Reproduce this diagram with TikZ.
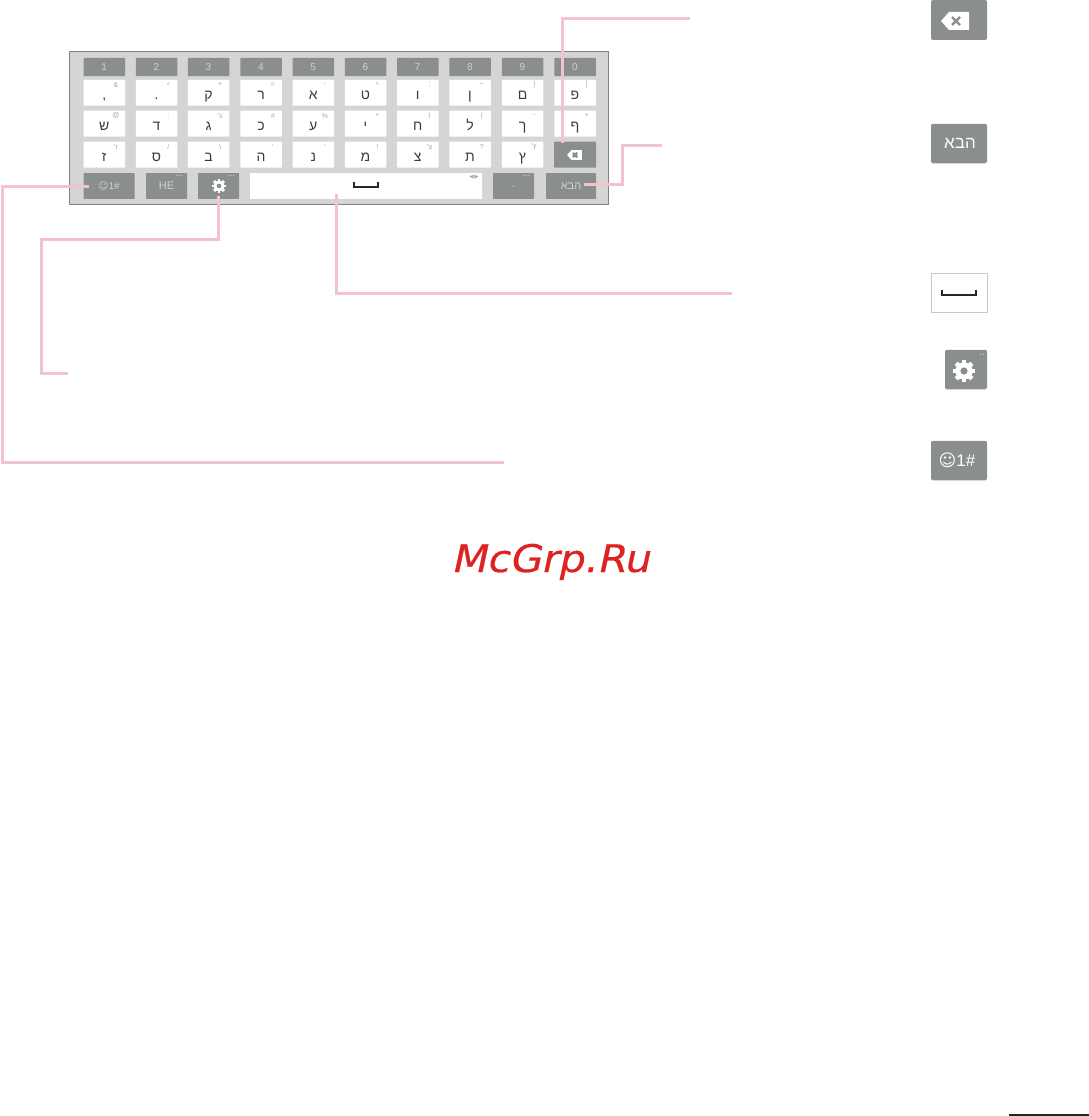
\documentclass[tikz,border=0pt]{standalone}
\usepackage{fontspec}
\setmainfont{Liberation Sans}
\newfontfamily\hebfont[Script=Hebrew]{Liberation Sans}
\newfontfamily\djv{DejaVu Sans}
\newfontfamily\markfont[FakeSlant=0.2,FakeBold=0.5]{DejaVu Sans}
\TeXXeTstate=1
\definecolor{keygray}{HTML}{8A8F8D}
\definecolor{panelgray}{HTML}{D5D5D3}
\definecolor{panelline}{HTML}{7F8280}
\definecolor{leaderpink}{HTML}{F3C3CD}
\definecolor{keyink}{HTML}{3C3C3C}
\definecolor{supink}{HTML}{A8A8A8}
\definecolor{numink}{HTML}{CFD2D1}
\definecolor{markred}{HTML}{DD2222}
\tikzset{
  panel/.style={draw=panelline,fill=panelgray,line width=1pt,minimum width=539pt,minimum height=152pt,inner sep=0pt,outer sep=0pt},
  keybase/.style={inner sep=0pt,outer sep=0pt,minimum height=25.8pt,rounded corners=0.5pt},
  whitekey/.style={keybase,fill=white,text=keyink,minimum width=41.5pt,text height=9pt,text depth=0pt,font=\hebfont\fontsize{14}{14}\selectfont},
  numkey/.style={keybase,fill=keygray,text=numink,minimum width=41.5pt,minimum height=18pt,font=\fontsize{10}{10}\selectfont},
  fnkey/.style={keybase,fill=keygray,text=numink,font=\fontsize{11}{11}\selectfont},
  supmark/.style={inner sep=0pt,outer sep=0pt,text=supink,font=\hebfont\fontsize{7}{7}\selectfont},
  dotsmark/.style={inner sep=0pt,outer sep=0pt,text=numink,font=\djv\fontsize{4}{4}\selectfont},
  bigicon/.style={inner sep=0pt,outer sep=0pt,fill=keygray,rounded corners=2pt,text=white,minimum height=39.5pt,minimum width=56pt},
  leader/.style={draw=leaderpink,line width=3pt,line join=miter},
  pics/gearicon/.style={code={
    \foreach \a in {0,45,90,135}{\fill[white,rotate=\a] (-2.3,-11) rectangle (2.3,11);}
    \fill[white] (0,0) circle (8.6);
    \fill[keygray] (0,0) circle (3.6);
  }},
  pics/backicon/.style={code={
    \fill[white] (-14,0) -- (-6,-9) -- (14,-9) -- (14,9) -- (-6,9) -- cycle;
    \draw[keygray,line width=2.2pt] (-3,-4) -- (5,4) (-3,4) -- (5,-4);
  }},
  pics/spaceicon/.style={code={
    \draw[black!85,line width=1.6pt,line cap=butt] (-1,-3) -- (-1,2) -- (1,2) -- (1,-3);
  }}
}
% #1 name, #2 centre x, #3 centre y, #4 main letter, #5 superscript
\newcommand\hkey[5]{%
  \node[whitekey] (#1) at (#2,#3) {\raisebox{-2pt}{\beginR #4\endR}};
  \node[supmark] (#1s) at ([xshift=-9pt,yshift=-5pt]#1.north east) {\beginR #5\endR};
}
\begin{document}
\begin{tikzpicture}[x=1pt,y=-1pt]
\useasboundingbox (0,0) rectangle (1089,1116);
\node[panel] (board) at (338.5,128) {};
% number row
\node[numkey] (n1) at (104.25,67) {1};
\node[numkey] (n2) at (156.5,67) {2};
\node[numkey] (n3) at (208.5,67) {3};
\node[numkey] (n4) at (261,67) {4};
\node[numkey] (n5) at (313.25,67) {5};
\node[numkey] (n6) at (365.5,67) {6};
\node[numkey] (n7) at (417.75,67) {7};
\node[numkey] (n8) at (470,67) {8};
\node[numkey] (n9) at (522.5,67) {9};
\node[numkey] (n0) at (575,67) {0};
% first letter row
\hkey{a1}{104.25}{92.8}{,}{\&}
\hkey{a2}{156.5}{92.8}{.}{*}
\hkey{a3}{208.5}{92.8}{ק}{+}
\hkey{a4}{261}{92.8}{ר}{=}
\hkey{a5}{313.25}{92.8}{א}{-}
\hkey{a6}{365.5}{92.8}{ט}{\textasciicircum}
\hkey{a7}{417.75}{92.8}{ו}{;}
\hkey{a8}{470}{92.8}{ן}{\textasciitilde}
\hkey{a9}{522.5}{92.8}{ם}{[}
\hkey{a0}{575}{92.8}{פ}{]}
% second letter row
\hkey{b1}{104.25}{123.6}{ש}{@}
\hkey{b2}{156.5}{123.6}{ד}{:}
\hkey{b3}{208.5}{123.6}{ג}{ג'}
\hkey{b4}{261}{123.6}{כ}{\#}
\hkey{b5}{313.25}{123.6}{ע}{\%}
\hkey{b6}{365.5}{123.6}{י}{*}
\hkey{b7}{417.75}{123.6}{ח}{(}
\hkey{b8}{470}{123.6}{ל}{)}
\hkey{b9}{522.5}{123.6}{ך}{-}
\hkey{b0}{575}{123.6}{ף}{+}
% third letter row
\hkey{c1}{104.25}{154.6}{ז}{ז'}
\hkey{c2}{156.5}{154.6}{ס}{/}
\hkey{c3}{208.5}{154.6}{ב}{\textbackslash}
\hkey{c4}{261}{154.6}{ה}{'}
\hkey{c5}{313.25}{154.6}{נ}{'}
\hkey{c6}{365.5}{154.6}{מ}{!}
\hkey{c7}{417.75}{154.6}{צ}{צ'}
\hkey{c8}{470}{154.6}{ת}{?}
\hkey{c9}{522.5}{154.6}{ץ}{ץ'}
\node[fnkey,minimum width=42pt] (bs) at (575,154.6) {};
\pic[scale=0.53] at (574.5,155) {backicon};
% bottom row
\node[fnkey,minimum width=51pt,font=\fontsize{10}{10}\selectfont] (emoji) at (109,186) {{\djv ☺}1\#};
\node[fnkey,minimum width=41pt] (he) at (166.5,186) {\raisebox{-2pt}{HE}};
\node[dotsmark] (hedots) at (179.5,176.5) {•••};
\node[fnkey,minimum width=41pt] (gear) at (218.5,186) {};
\pic[scale=0.64] at (219,186) {gearicon};
\node[dotsmark] (geardots) at (231.5,176.5) {•••};
\node[keybase,fill=white,minimum width=232pt] (space) at (366,186) {};
\pic[xscale=12,yscale=1] at (366,185) {spaceicon};
\node[inner sep=0pt,outer sep=0pt,text=supink,font=\djv\fontsize{5.5}{5.5}\selectfont] (spacearrows) at (474,177.5) {◀\,▶};
\node[fnkey,minimum width=41pt] (period) at (513.5,186) {\raisebox{-3pt}{.}};
\node[dotsmark] (perioddots) at (526.5,176.5) {•••};
\node[fnkey,minimum width=50pt,font=\hebfont\fontsize{11}{11}\selectfont] (nextk) at (571,186) {\beginR הבא\endR};
% legend icons
\node[bigicon,minimum height=40pt] (ibs) at (959,20) {};
\pic at (955,21) {backicon};
\node[bigicon,font=\hebfont\fontsize{17}{17}\selectfont] (inext) at (959,143.5) {\raisebox{-4pt}{\hspace{2pt}\beginR הבא\endR}};
\node[draw=black!22,fill=white,line width=1pt,inner sep=0pt,outer sep=0pt,minimum width=56.5pt,minimum height=39.5pt] (ispace) at (959.5,293) {};
\pic[xscale=17,yscale=1.1] at (959,293) {spaceicon};
\node[bigicon,minimum width=42pt] (igear) at (966,369.5) {};
\pic at (964,371) {gearicon};
\node[dotsmark,font=\djv\fontsize{4.5}{4.5}\selectfont] (igeardots) at (982,355.5) {••};
\node[bigicon,font=\fontsize{17}{17}\selectfont] (iemoji) at (959,460.5) {\hspace{-4pt}{\djv ☺}1\#};
% leaders
\coordinate (lbs) at (690,19);
\coordinate (lnext) at (662,145);
\coordinate (lnextb) at (622,145);
\coordinate (lnextc) at (622,184.7);
\coordinate (lspace) at (732,293);
\coordinate (lgearc) at (41,239);
\coordinate (lgeard) at (41,373);
\coordinate (lgear) at (68,373);
\coordinate (lemojia) at (2,186);
\coordinate (lemojib) at (2,462);
\coordinate (lemoji) at (504,462);
\draw[leader] (lbs) -| ([xshift=-13pt,yshift=-1.5pt]bs.north);
\draw[leader] (lnext) -- (lnextb) -- (lnextc) -- ([xshift=38pt,yshift=1.3pt]nextk.west);
\draw[leader] ([xshift=-30pt,yshift=5pt]space.south) |- (lspace);
\draw[leader] ([yshift=3pt]gear.south) |- (lgearc) -- (lgeard) -- (lgear);
\draw[leader] ([xshift=5.5pt]emoji.west) -- (lemojia) -- (lemojib) -- (lemoji);
% watermark
\node[anchor=base west,inner sep=0pt,outer sep=0pt,text=markred,xscale=1.08,font=\markfont\fontsize{38}{38}\selectfont] (mark) at (451,572) {McGrp.Ru};
% page rule
\coordinate (rulea) at (1009,1115);
\coordinate (ruleb) at (1089,1115);
\draw[black!85,line width=1.4pt] (rulea) -- (ruleb);
\end{tikzpicture}
\end{document}
